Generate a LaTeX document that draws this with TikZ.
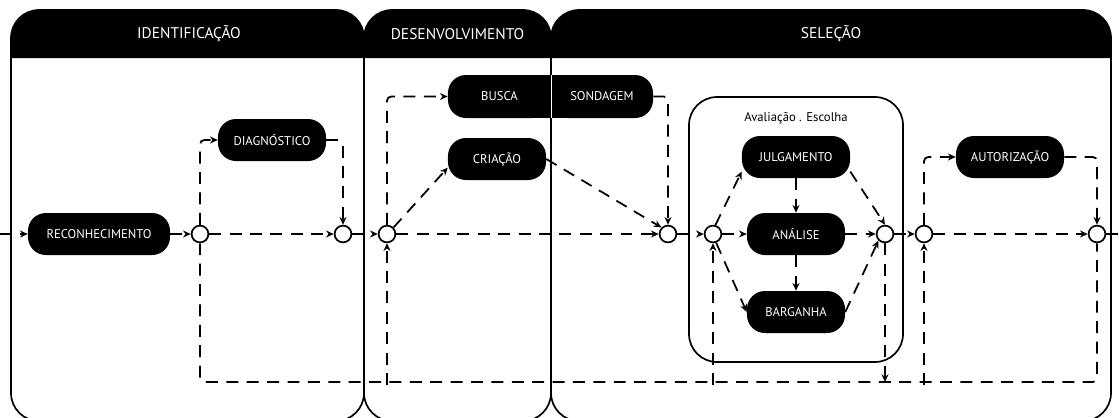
\documentclass[tikz,border=0pt]{standalone}
\usepackage{fontspec}
\setmainfont{PT Sans}
\usetikzlibrary{positioning,calc,arrows.meta}

\begin{document}
\begin{tikzpicture}[x=0.025cm, y=-0.025cm,
    every node/.style={font=\fontsize{9}{11}\selectfont},
    fase/.style={draw, line width=1.2pt, rounded corners=0.7cm},
    cabeca/.style={text=white, font=\fontsize{11}{13}\selectfont},
    etapa/.style={fill=black, text=white, rounded corners=0.45cm, minimum height=1.05cm, inner sep=0pt},
    juncao/.style={circle, draw, fill=white, line width=1.2pt, minimum size=0.42cm, inner sep=0pt},
    ligacao/.style={line width=1.25pt, dash pattern=on 8.5pt off 6pt, rounded corners=3pt},
    fluxo/.style={ligacao, -{Stealth[length=5.5pt,width=5pt]}}]
    \useasboundingbox (0,0) rectangle (1119,417);

    % Phases
    \draw[fase] (11,10) rectangle (364,421);
    \draw[fase] (364,10) rectangle (551,421);
    \draw[fase] (551,10) rectangle (1111,421);
    \fill (11,58) [rounded corners=0.7cm] -- (11,10) -- (364,10) [sharp corners] -- (364,58) -- cycle;
    \fill (364,58) [rounded corners=0.7cm] -- (364,10) -- (551,10) [sharp corners] -- (551,58) -- cycle;
    \fill (551,58) [rounded corners=0.7cm] -- (551,10) -- (1111,10) [sharp corners] -- (1111,58) -- cycle;
    \node[cabeca] (identificacao) at (189,34) {IDENTIFICAÇÃO};
    \node[cabeca] (desenvolvimento) at (457.5,34) {DESENVOLVIMENTO};
    \node[cabeca] (selecao) at (831,34) {SELEÇÃO};

    % Evaluation box
    \draw[line width=1.2pt, rounded corners=0.7cm] (689,97) rectangle (903,362);
    \node (avaliacao) at (796,118) {Avaliação . Escolha};

    % Steps
    \node[etapa, minimum width=3.55cm] (reconhecimento) at (99,234) {RECONHECIMENTO};
    \node[etapa, minimum width=2.7cm] (diagnostico) at (272,140) {DIAGNÓSTICO};
    \fill (520,75) rectangle (582,118);
    \node[etapa, minimum width=2.575cm, minimum height=1.075cm] (busca) at (499.5,96.5) {BUSCA};
    \node[etapa, minimum width=2.55cm, minimum height=1.075cm] (sondagem) at (602,96.5) {SONDAGEM};
    \draw[white, line width=1pt] (busca.north east) -- (busca.south east);
    \node[etapa, minimum width=2.45cm] (criacao) at (497,159) {CRIAÇÃO};
    \node[etapa, minimum width=2.7cm] (julgamento) at (796,157) {JULGAMENTO};
    \node[etapa, minimum width=2.45cm] (analise) at (796,234) {ANÁLISE};
    \node[etapa, minimum width=2.45cm] (barganha) at (796,312) {BARGANHA};
    \node[etapa, minimum width=2.7cm] (autorizacao) at (1010,157) {AUTORIZAÇÃO};

    % Junctions on the main line
    \node[juncao] (j1) at (200,234) {};
    \node[juncao] (j2) at (343,234) {};
    \node[juncao] (j3) at (387,234) {};
    \node[juncao] (j4) at (668,234) {};
    \node[juncao] (j5) at (713,234) {};
    \node[juncao] (j6) at (885,234) {};
    \node[juncao] (j7) at (924,234) {};
    \node[juncao] (j8) at (1097,234) {};
    \coordinate (inicio) at (0,234);
    \coordinate (fim) at (1119,234);
    \coordinate (retorno) at (0,382);

    % Main line
    \draw[fluxo] (inicio) -- (reconhecimento);
    \draw[fluxo] (reconhecimento) -- (j1);
    \draw[fluxo] (j1) -- (j2);
    \draw[fluxo] (j2) -- (j3);
    \draw[fluxo] (j3) -- (j4);
    \draw[fluxo] (j4) -- (j5);
    \draw[fluxo] (j5) -- (analise);
    \draw[fluxo] (analise) -- (j6);
    \draw[fluxo] (j6) -- (j7);
    \draw[fluxo] (j7) -- (j8);
    \draw[ligacao] (j8) -- (fim);

    % Branches
    \draw[fluxo] (j1.north) |- (diagnostico.west);
    \draw[fluxo] (diagnostico.east) -| (j2.north);
    \draw[fluxo] (j3.north) |- (busca.west);
    \draw[fluxo] (j3.north east) -- (criacao.190);
    \draw[fluxo] (sondagem.east) -| (j4.north);
    \draw[fluxo] (criacao.east) -- (j4.north west);
    \draw[fluxo] (j5.75) -- (julgamento.195);
    \draw[fluxo] (j5.290) -- (barganha.west);
    \draw[fluxo] (julgamento) -- (analise);
    \draw[fluxo] (analise) -- (barganha);
    \draw[fluxo] (julgamento.345) -- (j6.north);
    \draw[fluxo] (barganha.east) -- (j6.south west);
    \draw[fluxo] (j7.north) |- (autorizacao.west);
    \draw[fluxo] (autorizacao.east) -| (j8.north);

    % Feedback
    \draw[ligacao] (j1.south) |- (retorno -| j8) -- (j8.south);
    \draw[fluxo] ($(retorno -| j3)+(0,3)$) -- (j3.south);
    \draw[fluxo] ($(retorno -| j5)+(0,3)$) -- (j5.south);
    \draw[fluxo] ($(retorno -| j7)+(0,3)$) -- (j7.south);
    \draw[fluxo] (j6.south) -- (j6 |- retorno);
\end{tikzpicture}
\end{document}
